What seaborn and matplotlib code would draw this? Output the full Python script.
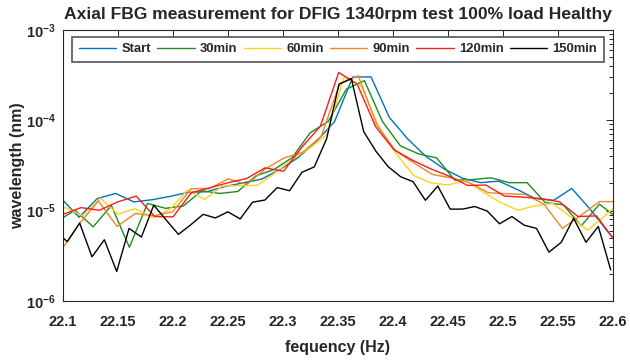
import numpy as np
import pandas as pd
import matplotlib
matplotlib.use("Agg")
import matplotlib.pyplot as plt
import seaborn as sns
from matplotlib.ticker import FixedLocator, FixedFormatter, LogLocator, NullFormatter

# ---------------- data ----------------
series_names = ["Start", "30min", "60min", "90min", "120min", "150min"]
series_colors = ["#0072BD", "#1E8C1E", "#FFD21A", "#E8892A", "#FF1A1A", "#000000"]

# spectral bin grid of each record: first bin frequency (Hz) and bin width (Hz)
freq_start = [22.0980, 22.0946, 22.08654, 22.09845, 22.0996, 22.09268]
freq_step = [0.016591, 0.016436, 0.015818, 0.016873, 0.016736, 0.011227]

start = [1.38e-5, 8.46e-6, 1.36e-5, 1.55e-5, 1.25e-5, 1.32e-5, 1.44e-5, 1.60e-5,
         1.62e-5, 1.85e-5, 2.03e-5, 2.23e-5, 2.85e-5, 3.86e-5, 5.83e-5, 9.68e-5,
         3.02e-4, 3.02e-4, 1.08e-4, 6.25e-5, 3.99e-5, 2.90e-5, 2.29e-5, 2.04e-5,
         2.12e-5, 1.72e-5, 1.36e-5, 1.30e-5, 1.76e-5, 1.04e-5, 5.75e-6, 3.32e-6]
min30 = [7.65e-6, 1.01e-5, 6.62e-6, 1.14e-5, 3.93e-6, 1.20e-5, 1.06e-5, 1.13e-5,
         1.66e-5, 1.55e-5, 1.63e-5, 2.43e-5, 2.85e-5, 3.86e-5, 7.27e-5, 9.73e-5,
         2.21e-4, 2.75e-4, 9.68e-5, 5.19e-5, 4.25e-5, 3.83e-5, 2.17e-5, 2.21e-5,
         2.31e-5, 2.04e-5, 2.04e-5, 1.23e-5, 1.16e-5, 6.79e-6, 1.18e-5, 8.25e-6]
min60 = [9.6e-6, 1.08e-5, 8.75e-6, 1.37e-5, 9.13e-6, 1.05e-5, 8.40e-6, 1.04e-5,
         1.69e-5, 1.33e-5, 1.87e-5, 1.90e-5, 1.90e-5, 2.58e-5, 3.67e-5, 4.88e-5,
         6.91e-5, 3.00e-4, 2.39e-4, 8.46e-5, 4.27e-5, 2.45e-5, 2.03e-5, 1.92e-5,
         2.16e-5, 1.60e-5, 1.23e-5, 1.01e-5, 1.13e-5, 1.20e-5, 8.61e-6, 6.09e-6,
         8.75e-6, 1.31e-5]
min90 = [3.67e-6, 7.27e-6, 1.28e-5, 6.69e-6, 9.31e-6, 8.75e-6, 9.72e-6, 1.75e-5,
         1.76e-5, 2.25e-5, 1.95e-5, 2.90e-5, 3.83e-5, 4.42e-5, 6.62e-5, 2.54e-4,
         3.11e-4, 8.90e-5, 4.61e-5, 3.37e-5, 2.51e-5, 2.31e-5, 2.04e-5, 1.58e-5,
         1.54e-5, 1.51e-5, 1.18e-5, 6.36e-6, 8.9e-6, 1.26e-5, 1.26e-5]
min120 = [9.06e-6, 1.08e-5, 1.01e-5, 1.25e-5, 1.45e-5, 8.61e-6, 8.53e-6, 1.58e-5,
          1.79e-5, 2.04e-5, 2.27e-5, 2.98e-5, 2.73e-5, 5.04e-5, 8.57e-5, 3.38e-4,
          2.53e-4, 8.53e-5, 4.73e-5, 3.62e-5, 2.90e-5, 2.41e-5, 1.90e-5, 1.92e-5,
          1.45e-5, 1.41e-5, 1.36e-5, 1.25e-5, 8.61e-6, 8.75e-6, 4.65e-6]
min150 = [6.04e-6, 4.53e-6, 7.28e-6, 3.08e-6, 4.76e-6, 2.12e-6, 6.35e-6, 5.10e-6,
          1.15e-5, 7.90e-6, 5.46e-6, 6.97e-6, 9.10e-6, 8.30e-6, 9.70e-6, 8.10e-6,
          1.24e-5, 1.31e-5, 1.80e-5, 1.66e-5, 2.66e-5, 3.05e-5, 6.25e-5, 2.51e-4,
          2.90e-4, 7.50e-5, 4.53e-5, 3.05e-5, 2.37e-5, 2.09e-5, 1.30e-5, 1.87e-5,
          1.04e-5, 1.04e-5, 1.11e-5, 9.90e-6, 7.15e-6, 8.60e-6, 6.90e-6, 6.35e-6,
          3.47e-6, 4.46e-6, 8.24e-6, 4.46e-6, 6.69e-6, 2.21e-6]
series_values = [start, min30, min60, min90, min120, min150]

x_ticks = [22.1, 22.15, 22.2, 22.25, 22.3, 22.35, 22.4, 22.45, 22.5, 22.55, 22.6]
x_tick_labels = ["22.1", "22.15", "22.2", "22.25", "22.3", "22.35", "22.4",
                 "22.45", "22.5", "22.55", "22.6"]
y_ticks = [1e-6, 1e-5, 1e-4, 1e-3]
y_tick_labels = [r"$\mathbf{10^{-6}}$", r"$\mathbf{10^{-5}}$",
                 r"$\mathbf{10^{-4}}$", r"$\mathbf{10^{-3}}$"]

title = "Axial FBG measurement for DFIG 1340rpm test 100% load Healthy"
x_label = "fequency (Hz)"
y_label = "wavelength (nm)"

# ---------------- build long table ----------------
frames = []
for name, f0, df_, vals in zip(series_names, freq_start, freq_step, series_values):
    f = f0 + df_ * np.arange(len(vals))
    frames.append(pd.DataFrame({"freq": f, "value": vals, "series": name}))
data = pd.concat(frames, ignore_index=True)

# ---------------- plot ----------------
sns.set_theme(style="white")
plt.rcParams["font.family"] = ["Liberation Sans", "DejaVu Sans"]
plt.rcParams["mathtext.fontset"] = "custom"
plt.rcParams["mathtext.rm"] = "Liberation Sans"
plt.rcParams["mathtext.bf"] = "Liberation Sans:bold"

fig = plt.figure(figsize=(6.3, 3.6), dpi=100)
ax = fig.add_axes([0.1, 0.164, 0.873, 0.7527])

palette = dict(zip(series_names, series_colors))
sns.lineplot(data=data, x="freq", y="value", hue="series", hue_order=series_names,
             palette=palette, estimator=None, sort=True, linewidth=1.0, ax=ax)

ax.set_yscale("log")
ax.set_xlim(22.1, 22.6)
ax.set_ylim(1e-6, 1e-3)

ax.xaxis.set_major_locator(FixedLocator(x_ticks))
ax.xaxis.set_major_formatter(FixedFormatter(x_tick_labels))
ax.yaxis.set_major_locator(FixedLocator(y_ticks))
ax.yaxis.set_major_formatter(FixedFormatter(y_tick_labels))
ax.yaxis.set_minor_locator(LogLocator(base=10, subs=np.arange(2, 10)))
ax.yaxis.set_minor_formatter(NullFormatter())

ax.tick_params(which="both", direction="in", top=True, right=True, color="#262626",
               width=0.7)
ax.tick_params(which="major", length=5, labelsize=10.5)
ax.tick_params(axis="x", which="major", pad=10)
ax.tick_params(axis="y", which="major", pad=5)
ax.tick_params(which="minor", length=3)
for lab in ax.get_xticklabels():
    lab.set_fontweight("bold")
for sp in ax.spines.values():
    sp.set_color("#262626")
    sp.set_linewidth(0.8)

ax.set_xlabel(x_label, fontsize=11.5, fontweight="bold", labelpad=8)
ax.set_ylabel(y_label, fontsize=11.5, fontweight="bold", labelpad=1)
ax.set_title(title, fontsize=12.6, fontweight="bold", pad=8)

handles, labels = ax.get_legend_handles_labels()
leg = ax.legend(handles, labels, loc="upper center", bbox_to_anchor=(0.5, 0.975),
                ncol=6, borderaxespad=0, fancybox=False, framealpha=1,
                edgecolor="#555555", handlelength=2.85, handletextpad=0.4,
                columnspacing=0.5, borderpad=0.5,
                prop={"weight": "bold", "size": 9.4})
leg.get_frame().set_linewidth(1.2)

fig.savefig("out.png", dpi=100)
